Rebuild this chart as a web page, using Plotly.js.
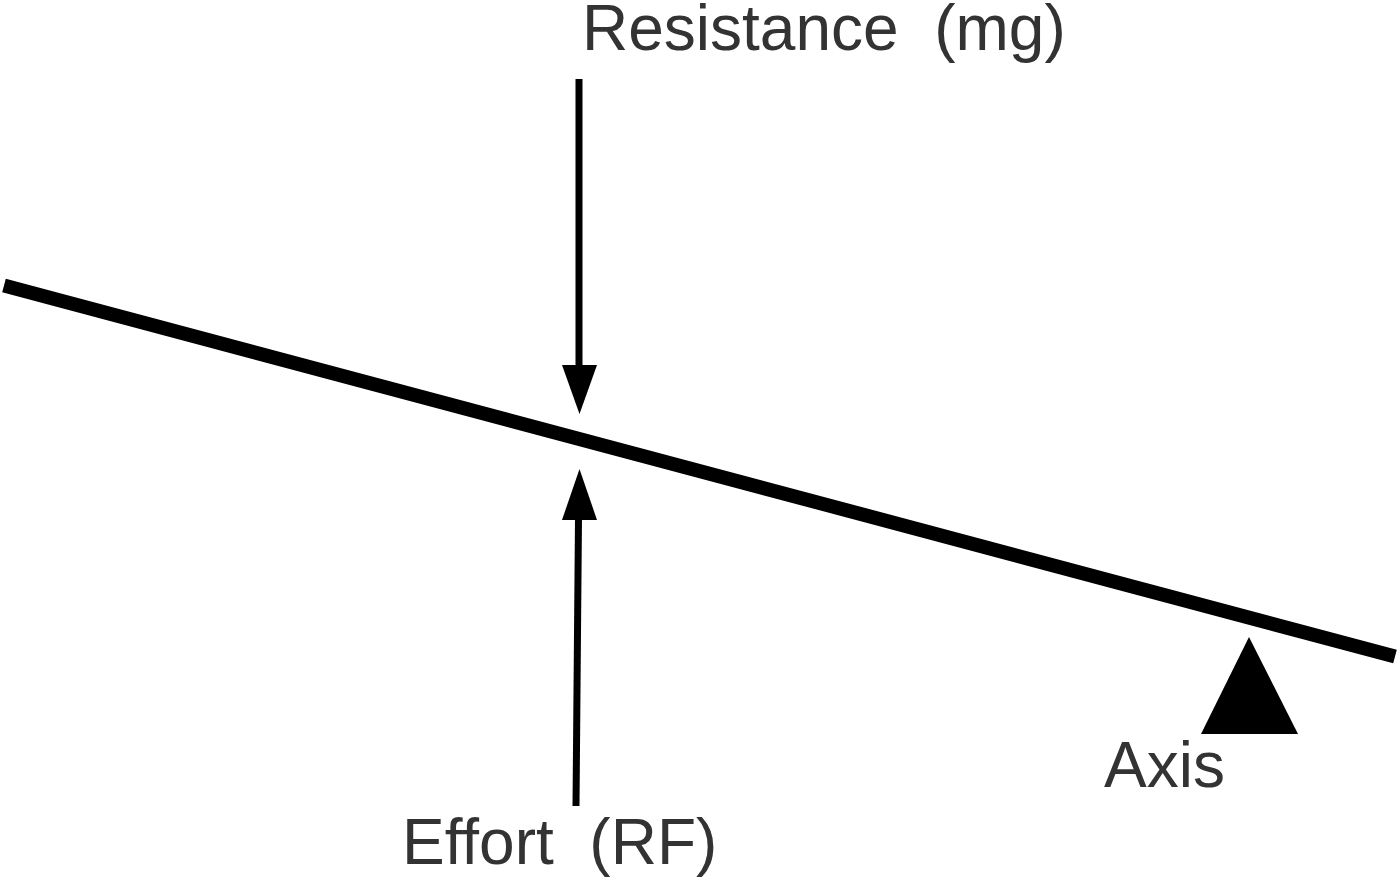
<!DOCTYPE html>
<html>
<head>
<meta charset="utf-8">
<script src="https://cdn.plot.ly/plotly-3.0.1.min.js"></script>
<style>html,body{margin:0;padding:0;background:#fff;}#chart{width:1398px;height:881px;}</style>
</head>
<body>
<div id="chart"></div>
<script>
// Diagram geometry (pixel-space data units)
const leverX = [4, 1395];
const leverY = [285.5, 656.5];

const resistShaftX = [579, 579];
const resistShaftY = [79, 366];
const resistHeadX = [562, 597, 579.5, 562];
const resistHeadY = [365, 365, 414, 365];

const effortShaftX = [576, 578.5];
const effortShaftY = [806, 518];
const effortHeadX = [562, 597, 579.5, 562];
const effortHeadY = [520, 520, 469, 520];

const fulcrumX = [1201, 1298, 1249, 1201];
const fulcrumY = [734, 734, 637, 734];

const labelTexts = ['Resistance\u00A0\u00A0(mg)', 'Effort\u00A0\u00A0(RF)', 'Axis'];
const labelX = [580, 400, 1102];
const labelY = [28, 842, 765];
const labelSize = [64, 64, 64];

const black = '#000000';
const traces = [
  {x: leverX, y: leverY, mode: 'lines', line: {color: black, width: 14}, hoverinfo: 'skip'},
  {x: resistShaftX, y: resistShaftY, mode: 'lines', line: {color: black, width: 7}, hoverinfo: 'skip'},
  {x: resistHeadX, y: resistHeadY, mode: 'lines', fill: 'toself', fillcolor: black, line: {color: black, width: 0}, hoverinfo: 'skip'},
  {x: effortShaftX, y: effortShaftY, mode: 'lines', line: {color: black, width: 7}, hoverinfo: 'skip'},
  {x: effortHeadX, y: effortHeadY, mode: 'lines', fill: 'toself', fillcolor: black, line: {color: black, width: 0}, hoverinfo: 'skip'},
  {x: fulcrumX, y: fulcrumY, mode: 'lines', fill: 'toself', fillcolor: black, line: {color: black, width: 0}, hoverinfo: 'skip'}
];

const annotations = labelTexts.map((t, i) => ({
  x: labelX[i], y: labelY[i], xref: 'x', yref: 'y',
  text: t, showarrow: false, xanchor: 'left', yanchor: 'middle',
  font: {family: 'Liberation Sans, Arial, sans-serif', size: labelSize[i], color: '#333333'}
}));

const layout = {
  width: 1398, height: 881,
  margin: {l: 0, r: 0, t: 0, b: 0, pad: 0},
  paper_bgcolor: '#ffffff', plot_bgcolor: '#ffffff',
  showlegend: false,
  xaxis: {range: [0, 1398], visible: false, fixedrange: true},
  yaxis: {range: [881, 0], visible: false, fixedrange: true},
  annotations: annotations
};

Plotly.newPlot('chart', traces, layout, {displayModeBar: false, staticPlot: true});
</script>
</body>
</html>
